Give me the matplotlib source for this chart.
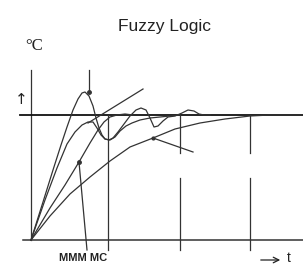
import numpy as np
import matplotlib.pyplot as plt

# hand-drawn step responses (t = time, T = temperature)
setpoint = 125

curve_a_t = [0, 12, 22, 30, 36, 42, 47, 51, 54, 58, 62, 65, 68, 71, 74, 78, 82, 87, 93, 99, 105, 110, 115, 119, 123, 127, 132, 137, 144, 151, 157, 163, 168, 173, 179]
curve_a_T = [0, 38, 70, 95, 113, 130, 141, 147, 148, 144, 134, 122, 112, 105, 101, 100, 102, 108, 116, 124, 130, 132, 130, 122, 113, 114, 119, 123, 124, 127, 130, 129, 126, 125, 125]

curve_b_t = [0, 14, 26, 36, 44, 51, 57, 62, 66, 70, 74, 79, 84, 89, 95, 101, 109, 119, 129, 139, 149]
curve_b_T = [0, 40, 72, 96, 108, 115, 118, 118, 112, 105, 101, 100, 103, 109, 114, 117, 120, 122, 123, 124, 125]

curve_c_t = [0, 19, 34, 48, 59, 67, 73, 79, 86, 94, 102]
curve_c_T = [0, 32, 55, 78, 97, 110, 118, 123, 125, 126, 125]

curve_d_t = [0, 19, 39, 59, 79, 99, 122, 144, 169, 194, 219, 239, 259, 272]
curve_d_T = [0, 24, 46, 63, 79, 93, 102, 111, 117, 121, 124, 125, 125, 125]

tangent_t = [57, 112]
tangent_T = [117, 151]

marks_t = [27, 58, 77, 149, 219]   # vertical time marks
label_dot_t, label_dot_T = 48, 78
note_dot_t, note_dot_T = 122, 102

fig = plt.figure(figsize=(3.03, 2.68), dpi=100)
ax = fig.add_axes([0, 0, 1, 1])
ax.set_xlim(-31, 272)
ax.set_ylim(-28, 240)
ax.axis('off')

ink = '#333333'
lw = 0.9

# axes and setpoint
ax.plot([0, 0], [0, 170], color=ink, lw=lw)
ax.plot([-8, 272], [0, 0], color=ink, lw=1.1)
ax.plot([-11, 272], [setpoint, setpoint], color='#111111', lw=1.3)

# vertical marks
ax.plot([marks_t[1], marks_t[1]], [148, 170], color=ink, lw=lw)
ax.plot([marks_t[2], marks_t[2]], [-10, setpoint], color=ink, lw=lw)
for t in marks_t[3:]:
    ax.plot([t, t], [87, setpoint], color=ink, lw=lw)
    ax.plot([t, t], [-10, 62], color=ink, lw=lw)

# responses
for xs, ys in [(curve_a_t, curve_a_T), (curve_b_t, curve_b_T),
               (curve_c_t, curve_c_T), (curve_d_t, curve_d_T)]:
    ax.plot(xs, ys, color=ink, lw=lw, solid_joinstyle='round')
ax.plot(tangent_t, tangent_T, color=ink, lw=lw)
ax.plot(58, 148, 'o', color=ink, ms=2.5)

# pointers
ax.plot([label_dot_t, 56], [label_dot_T, -10], color=ink, lw=lw)
ax.plot(label_dot_t, label_dot_T, 'o', color=ink, ms=2.5)
ax.plot([note_dot_t, 162], [note_dot_T, 88], color=ink, lw=lw)
ax.plot(note_dot_t, note_dot_T, 'o', color=ink, ms=2)

# text
fam = ['Liberation Sans Narrow', 'Liberation Sans', 'DejaVu Sans']
ax.text(134, 213, 'Fuzzy Logic', ha='center', va='center', fontsize=12.5, family=fam, color='#222222')
ax.text(3, 194, '°C', ha='center', va='center', fontsize=12, family=['Liberation Serif', 'DejaVu Serif'], color='#222222')
ax.text(-10, 140, '↑', ha='center', va='center', fontsize=11, family=['DejaVu Sans'], color='#222222')
ax.text(52, -18, 'MMM MC', ha='center', va='center', fontsize=8, family=fam, weight='bold', color='#222222')
ax.annotate('', xy=(252, -20), xytext=(227, -20),
            arrowprops=dict(arrowstyle='->', color='#222222', lw=0.9))
ax.text(256, -18, 't', ha='left', va='center', fontsize=10, family=fam, color='#222222')

fig.savefig('out.png', dpi=100)
